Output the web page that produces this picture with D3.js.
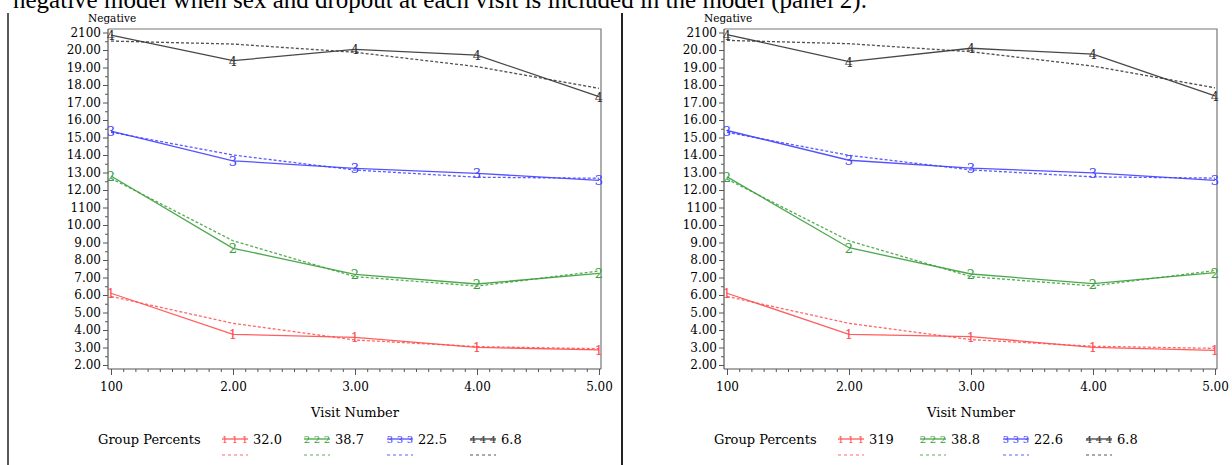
<!DOCTYPE html>
<html>
<head>
<meta charset="utf-8">
<script src="https://cdn.jsdelivr.net/npm/d3@7"></script>
<style>
  html, body { margin: 0; padding: 0; background: #fff; }
  svg { display: block; }
</style>
</head>
<body>
<svg id="chart" width="1232" height="465"></svg>
<script>
// Visit numbers (x) and tick labels
const visits = [1, 2, 3, 4, 5];
const xTickValues = [1, 2, 3, 4, 5];
const xTickLabels = ["100", "2.00", "3.00", "4.00", "5.00"];
const yTickValues = [2,3,4,5,6,7,8,9,10,11,12,13,14,15,16,17,18,19,20,21];
const yTickLabels = ["2.00","3.00","4.00","5.00","6.00","7.00","8.00","9.00","10.00","1100",
                     "12.00","13.00","14.00","15.00","16.00","17.00","18.00","19.00","20.00","2100"];

// Trajectory groups
const groupIds = ["1", "2", "3", "4"];
const groupColors = ["#ff4d4d", "#3a9e3a", "#4040ff", "#333333"];

// Panel 1: observed (solid) and predicted (dashed) means per group
const p1Observed = [
  [6.10, 3.75, 3.58, 3.01, 2.86],
  [12.80, 8.67, 7.18, 6.63, 7.24],
  [15.37, 13.67, 13.24, 12.95, 12.55],
  [20.85, 19.39, 20.04, 19.71, 17.33]
];
const p1Predicted = [
  [5.92, 4.38, 3.43, 3.05, 2.93],
  [12.67, 9.10, 7.05, 6.51, 7.37],
  [15.30, 14.00, 13.14, 12.73, 12.67],
  [20.51, 20.34, 19.87, 19.05, 17.81]
];
const p1Percents = ["32.0", "38.7", "22.5", "6.8"];

// Panel 2: observed (solid) and predicted (dashed) means per group
const p2Observed = [
  [6.10, 3.75, 3.62, 3.01, 2.84],
  [12.75, 8.70, 7.20, 6.65, 7.28],
  [15.40, 13.70, 13.25, 12.98, 12.55],
  [20.88, 19.34, 20.10, 19.76, 17.38]
];
const p2Predicted = [
  [5.92, 4.38, 3.45, 3.07, 2.95],
  [12.62, 9.10, 7.05, 6.52, 7.40],
  [15.30, 13.98, 13.15, 12.75, 12.68],
  [20.55, 20.36, 19.90, 19.08, 17.84]
];
const p2Percents = ["319", "38.8", "22.6", "6.8"];

const titleText = "negative model when sex and dropout at each visit is included in the model (panel 2).";

const svg = d3.select("#chart");
const serif = "'DejaVu Serif', serif";

// Caption line across the top, partly above the page edge
svg.append("text")
  .attr("x", 13).attr("y", 8)
  .attr("font-family", "'Liberation Serif', serif")
  .attr("font-size", 25)
  .attr("fill", "#000")
  .text(titleText);

// Column separator rules
[8, 622].forEach(x => {
  svg.append("line")
    .attr("x1", x).attr("x2", x).attr("y1", 13).attr("y2", 465)
    .attr("stroke", "#222").attr("stroke-width", x === 622 ? 2 : 1.5);
});

function drawPanel(offsetX, observed, predicted, percents) {
  const g = svg.append("g").attr("transform", `translate(${offsetX},0)`);
  const left = 108, right = 601, top = 29, bottom = 369;

  const x = d3.scaleLinear().domain([1, 5]).range([111, 599]);
  const y = d3.scaleLinear().domain([2, 21]).range([365, 32.5]);

  // frame (top and right edges)
  g.append("path")
    .attr("d", `M${left},${top}H${right}V${bottom}`)
    .attr("fill", "none").attr("stroke", "#777").attr("stroke-width", 1.2);

  // y axis: minor ticks then major ticks with labels
  const yMinor = d3.range(2.5, 21, 1);
  g.append("g").attr("transform", `translate(${left},0)`)
    .call(d3.axisLeft(y).tickValues(yMinor).tickSize(3).tickFormat(""))
    .call(s => s.select(".domain").remove())
    .selectAll("line").attr("stroke", "#555");
  const yAxis = g.append("g").attr("transform", `translate(${left},0)`)
    .call(d3.axisLeft(y).tickValues(yTickValues).tickSize(5).tickPadding(2)
      .tickFormat((d, i) => yTickLabels[i]));
  yAxis.select(".domain").attr("d", `M0,${top}V${bottom}`).attr("stroke", "#555").attr("stroke-width", 1.2);
  yAxis.selectAll("line").attr("stroke", "#555");
  yAxis.selectAll("text").attr("font-family", serif).attr("font-size", 12).attr("fill", "#000");

  // x axis: minor ticks then major ticks with labels
  const xMinor = d3.range(1, 5.0001, 0.1).filter(v => Math.abs(v - Math.round(v)) > 1e-6);
  g.append("g").attr("transform", `translate(0,${bottom})`)
    .call(d3.axisBottom(x).tickValues(xMinor).tickSize(3).tickFormat(""))
    .call(s => s.select(".domain").remove())
    .selectAll("line").attr("stroke", "#555");
  const xAxis = g.append("g").attr("transform", `translate(0,${bottom})`)
    .call(d3.axisBottom(x).tickValues(xTickValues).tickSize(6).tickPadding(7)
      .tickFormat((d, i) => xTickLabels[i]));
  xAxis.select(".domain").attr("d", `M${left},0H${right}`).attr("stroke", "#555").attr("stroke-width", 1.2);
  xAxis.selectAll("line").attr("stroke", "#555");
  xAxis.selectAll("text").attr("font-family", serif).attr("font-size", 12).attr("fill", "#000");

  // axis titles
  g.append("text").attr("x", 88).attr("y", 22)
    .attr("font-family", serif).attr("font-size", 10.5).attr("fill", "#000")
    .text("Negative");
  g.append("text").attr("x", 355).attr("y", 417).attr("text-anchor", "middle")
    .attr("font-family", serif).attr("font-size", 13).attr("fill", "#000")
    .text("Visit Number");

  const line = d3.line().x((d, i) => x(visits[i])).y(d => y(d));

  // predicted (dashed) and observed (solid) trajectories with numbered markers
  groupIds.forEach((gid, k) => {
    g.append("path").datum(predicted[k])
      .attr("d", line).attr("fill", "none")
      .attr("stroke", groupColors[k]).attr("stroke-width", 1.3)
      .attr("stroke-dasharray", "3,2").attr("opacity", 0.85);
    g.append("path").datum(observed[k])
      .attr("d", line).attr("fill", "none")
      .attr("stroke", groupColors[k]).attr("stroke-width", 1.3).attr("opacity", 0.9);
    g.selectAll(null).data(observed[k]).join("text")
      .attr("x", (d, i) => x(visits[i])).attr("y", d => y(d) + 5)
      .attr("text-anchor", "middle")
      .attr("font-family", serif).attr("font-size", 13)
      .attr("fill", groupColors[k])
      .text(gid);
  });

  // legend
  g.append("text").attr("x", 98).attr("y", 444)
    .attr("font-family", serif).attr("font-size", 13).attr("fill", "#000")
    .text("Group  Percents");
  const legendX = [222, 304, 387, 470];
  groupIds.forEach((gid, k) => {
    const lx = legendX[k];
    g.append("line").attr("x1", lx).attr("x2", lx + 26).attr("y1", 439).attr("y2", 439)
      .attr("stroke", groupColors[k]).attr("stroke-width", 1.2);
    [3, 13, 23].forEach(dx => {
      g.append("text").attr("x", lx + dx).attr("y", 443).attr("text-anchor", "middle")
        .attr("font-family", serif).attr("font-size", 10).attr("fill", groupColors[k])
        .text(gid);
    });
    g.append("text").attr("x", lx + 31).attr("y", 444)
      .attr("font-family", serif).attr("font-size", 13).attr("fill", "#000")
      .text(percents[k]);
    g.append("line").attr("x1", lx).attr("x2", lx + 26).attr("y1", 455).attr("y2", 455)
      .attr("stroke", groupColors[k]).attr("stroke-width", 1.5)
      .attr("stroke-dasharray", "3,3").attr("opacity", 0.55);
  });
}

drawPanel(0, p1Observed, p1Predicted, p1Percents);
drawPanel(616, p2Observed, p2Predicted, p2Percents);
</script>
</body>
</html>
